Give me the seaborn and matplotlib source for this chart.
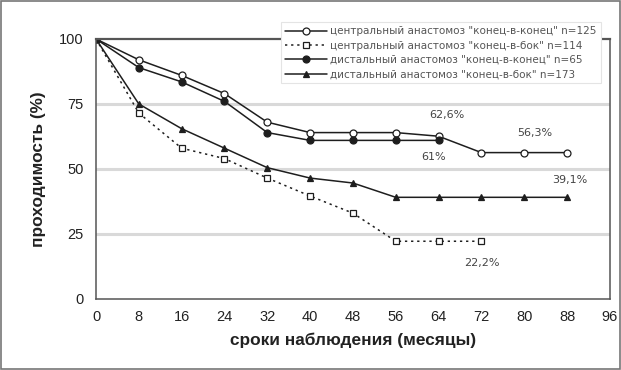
import matplotlib
matplotlib.use("Agg")
import matplotlib.pyplot as plt
import seaborn as sns
import pandas as pd

months = [0, 8, 16, 24, 32, 40, 48, 56, 64, 72, 80, 88]

central_end_end = [100, 92, 86, 79, 68, 64, 64, 64, 62.6, 56.3, 56.3, 56.3]
central_end_side = [100, 71.5, 58, 54, 46.5, 39.6, 33, 22.2, 22.2, 22.2]
distal_end_end = [100, 89, 83.5, 76, 64, 61, 61, 61, 61]
distal_end_side = [100, 75, 65.5, 58, 50.5, 46.5, 44.6, 39.1, 39.1, 39.1, 39.1, 39.1]

labels = [
    'центральный анастомоз "конец-в-конец" n=125',
    'центральный анастомоз "конец-в-бок" n=114',
    'дистальный анастомоз "конец-в-конец" n=65',
    'дистальный анастомоз "конец-в-бок" n=173',
]

xticks = list(range(0, 97, 8))
yticks = [0, 25, 50, 75, 100]

sns.set_theme(style="white")
plt.rcParams["font.family"] = ["Liberation Sans", "DejaVu Sans"]

fig = plt.figure(figsize=(6.21, 3.70), dpi=100)
ax = fig.add_axes([0.1546, 0.192, 0.8275, 0.7026])

ink = "#1e1e1e"
series = [
    (central_end_end, dict(marker="o", linestyle="-", markerfacecolor="white")),
    (central_end_side, dict(marker="s", linestyle=(0, (1.5, 2.5)), markerfacecolor="white")),
    (distal_end_end, dict(marker="o", linestyle="-", markerfacecolor=ink)),
    (distal_end_side, dict(marker="^", linestyle="-", markerfacecolor=ink)),
]

for ytick in [25, 50, 75]:
    ax.axhline(ytick, color="#d9d9d9", lw=2.2, zorder=0)

for (vals, style), lab in zip(series, labels):
    df = pd.DataFrame({"x": months[:len(vals)], "y": vals})
    sns.lineplot(data=df, x="x", y="y", ax=ax, color=ink, lw=1.1,
                 markersize=5, markeredgecolor=ink, markeredgewidth=0.9,
                 label=lab, **style)

ax.set_xlim(0, 96)
ax.set_ylim(0, 100)
ax.set_xticks(xticks)
ax.set_yticks(yticks)
ax.tick_params(axis="x", labelsize=10.5, colors="#222222", length=0, pad=8)
ax.tick_params(axis="y", labelsize=10.5, colors="#222222", length=0, pad=9)
for sp in ax.spines.values():
    sp.set_visible(True)
    sp.set_color("#555555")
    sp.set_linewidth(1.1)
ax.spines["top"].set_linewidth(1.6)

ax.set_xlabel("сроки наблюдения (месяцы)", fontsize=12.4, fontweight="bold",
              color="#222222", labelpad=6)
ax.set_ylabel("проходимость (%)", fontsize=12.4, fontweight="bold",
              color="#222222", labelpad=9)

ann = dict(fontsize=8, color="#444444", ha="center", va="center",
           family=["DejaVu Sans"])
ax.text(65.6, 70.8, "62,6%", **ann)
ax.text(63, 54.6, "61%", **ann)
ax.text(82, 63.8, "56,3%", **ann)
ax.text(88.5, 45.8, "39,1%", **ann)
ax.text(72, 13.8, "22,2%", **ann)

leg = ax.legend(loc="upper left", bbox_to_anchor=(281 / 621, 1 - 22 / 370),
                bbox_transform=fig.transFigure,
                prop={"family": "DejaVu Sans", "size": 7.5}, frameon=True,
                fancybox=False, edgecolor="#e4e4e4", framealpha=1,
                handlelength=4.0, labelspacing=0.42, borderpad=0.4,
                handletextpad=0.3, borderaxespad=0)
for t in leg.get_texts():
    t.set_color("#555555")
leg.get_frame().set_linewidth(0.8)
leg.set_zorder(5)

fig.patches.append(plt.Rectangle((0.002, 0.003), 0.996, 0.994, transform=fig.transFigure,
                                 fill=False, edgecolor="#777777", lw=1.2))

fig.savefig("out.png", dpi=100)
